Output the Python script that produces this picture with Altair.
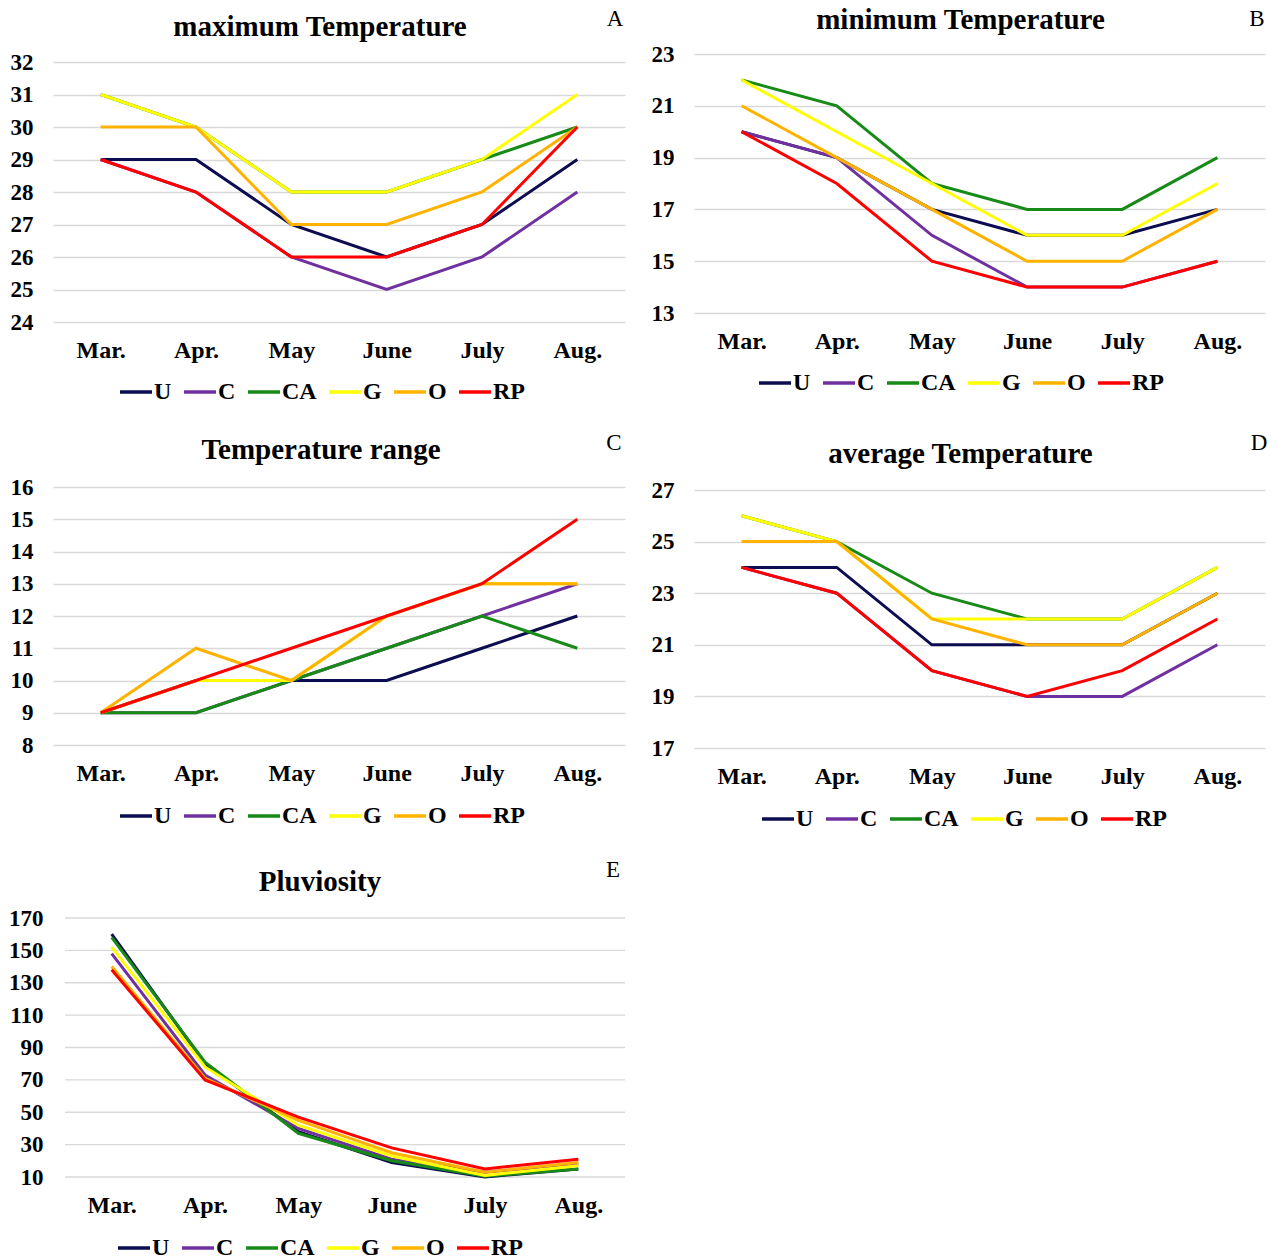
import altair as alt
import pandas as pd

FONT = "Liberation Serif"

MONTHS = ["Mar.", "Apr.", "May", "June", "July", "Aug."]
SITES = ["U", "C", "CA", "G", "O", "RP"]
COLORS = ["#0C0C50", "#7030A0", "#178A17", "#FFFF00", "#FFB300", "#FF0000"]

# A - maximum temperature
TMAX_U = [29, 29, 27, 26, 27, 29]
TMAX_C = [29, 28, 26, 25, 26, 28]
TMAX_CA = [31, 30, 28, 28, 29, 30]
TMAX_G = [31, 30, 28, 28, 29, 31]
TMAX_O = [30, 30, 27, 27, 28, 30]
TMAX_RP = [29, 28, 26, 26, 27, 30]

# B - minimum temperature
TMIN_U = [20, 19, 17, 16, 16, 17]
TMIN_C = [20, 19, 16, 14, 14, 15]
TMIN_CA = [22, 21, 18, 17, 17, 19]
TMIN_G = [22, 20, 18, 16, 16, 18]
TMIN_O = [21, 19, 17, 15, 15, 17]
TMIN_RP = [20, 18, 15, 14, 14, 15]

# C - temperature range
TRNG_U = [9, 10, 10, 10, 11, 12]
TRNG_C = [9, 9, 10, 11, 12, 13]
TRNG_CA = [9, 9, 10, 11, 12, 11]
TRNG_G = [9, 10, 10, 12, 13, 13]
TRNG_O = [9, 11, 10, 12, 13, 13]
TRNG_RP = [9, 10, 11, 12, 13, 15]

# D - average temperature
TAVG_U = [24, 24, 21, 21, 21, 23]
TAVG_C = [24, 23, 20, 19, 19, 21]
TAVG_CA = [26, 25, 23, 22, 22, 24]
TAVG_G = [26, 25, 22, 22, 22, 24]
TAVG_O = [25, 25, 22, 21, 21, 23]
TAVG_RP = [24, 23, 20, 19, 20, 22]

# E - pluviosity
PLUV_U = [160, 80, 38, 19, 10, 15]
PLUV_C = [148, 73, 40, 21, 13, 18]
PLUV_CA = [158, 81, 37, 20, 10.5, 15]
PLUV_G = [152, 78, 42, 23, 11, 17]
PLUV_O = [140, 71, 45, 25, 13, 19]
PLUV_RP = [138, 70, 47, 28, 15, 21]


def make_df(series):
    rows = []
    for k, (s, vals) in enumerate(zip(SITES, series)):
        for m, v in zip(MONTHS, vals):
            rows.append({"month": m, "site": s, "value": v, "k": k})
    return pd.DataFrame(rows)


def panel(series, title, letter, domain, ticks, width, h, top, title_dx,
          title_off, legend_x, legend_y, letter_x, letter_y, x0=0,
          label_pad=20):
    df = make_df(series)
    height = h + top
    yscale = alt.Scale(domain=domain, nice=False, zero=False, range=[height, top])
    xscale = alt.Scale(type="point", padding=0.5, range=[x0, width])
    own_grid = x0 > 0
    yaxis = alt.Axis(title=None, values=ticks, ticks=False, domain=False,
                     grid=not own_grid, gridColor="#d9d9d9", gridWidth=1.3,
                     labelPadding=label_pad, labelFont=FONT,
                     labelFontSize=23, labelFontWeight="bold",
                     labelColor="black")
    lines = alt.Chart(df).mark_line(strokeWidth=3).encode(
        x=alt.X("month:N", sort=MONTHS, scale=xscale,
                axis=alt.Axis(title=None, labelAngle=0, ticks=False, domain=False,
                              grid=False, labelPadding=16, labelFont=FONT,
                              labelFontSize=24, labelFontWeight="bold",
                              labelColor="black")),
        y=alt.Y("value:Q", scale=yscale, axis=yaxis),
        color=alt.Color("site:N", sort=SITES,
                        scale=alt.Scale(domain=SITES, range=COLORS),
                        legend=alt.Legend(title=None, orient="none",
                                          legendX=legend_x, legendY=legend_y,
                                          direction="horizontal",
                                          symbolType="stroke", symbolSize=1024,
                                          symbolStrokeWidth=3.5,
                                          labelFont=FONT, labelFontSize=24,
                                          labelFontWeight="bold",
                                          labelColor="black", labelOffset=0,
                                          columnPadding=5)),
        order=alt.Order("k:Q"),
    )
    layers = []
    if own_grid:
        grid = alt.Chart(pd.DataFrame({"v": ticks})).mark_rule(
            color="#d9d9d9", strokeWidth=1.3
        ).encode(y=alt.Y("v:Q", scale=yscale, axis=yaxis),
                 x=alt.value(x0), x2=alt.value(width))
        layers.append(grid)
    layers.append(lines)
    lab = alt.Chart(pd.DataFrame({"t": [letter]})).mark_text(
        font=FONT, fontSize=23, align="center", baseline="middle", color="black"
    ).encode(text="t:N", x=alt.value(letter_x), y=alt.value(letter_y))
    layers.append(lab)
    return alt.layer(*layers).properties(
        width=width, height=height,
        title=alt.TitleParams(title, font=FONT, fontSize=29, fontWeight="bold",
                              color="black", anchor="middle", dx=title_dx,
                              offset=title_off),
    )


pA = panel([TMAX_U, TMAX_C, TMAX_CA, TMAX_G, TMAX_O, TMAX_RP],
           "maximum Temperature", "A", [24, 32], list(range(24, 33)),
           572, 260, 8, -19, -34, 65, 320, 562, -35)
pB = panel([TMIN_U, TMIN_C, TMIN_CA, TMIN_G, TMIN_O, TMIN_RP],
           "minimum Temperature", "B", [13, 23], list(range(13, 24, 2)),
           571, 259, 0, -19, -27, 63, 311, 563, -35)
pC = panel([TRNG_U, TRNG_C, TRNG_CA, TRNG_G, TRNG_O, TRNG_RP],
           "Temperature range", "C", [8, 16], list(range(8, 17)),
           572, 258, 0, -18, -33, 65, 311, 561, -44)
pD = panel([TAVG_U, TAVG_C, TAVG_CA, TAVG_G, TAVG_O, TAVG_RP],
           "average Temperature", "D", [17, 27], list(range(17, 28, 2)),
           571, 258, 3, -19, -37, 66, 314, 565, -44)
pE = panel([PLUV_U, PLUV_C, PLUV_CA, PLUV_G, PLUV_O, PLUV_RP],
           "Pluviosity", "E", [10, 170], list(range(10, 171, 20)),
           572, 259, 0, -19, -38, 63, 312, 560, -48, x0=12, label_pad=10)

row1 = alt.hconcat(pA, pB, spacing=26).resolve_scale(
    color="independent", y="independent", x="independent").resolve_legend(color="independent")
row2 = alt.hconcat(pC, pD, spacing=26).resolve_scale(
    color="independent", y="independent", x="independent").resolve_legend(color="independent")

chart = alt.vconcat(row1, row2, pE, spacing=28).resolve_scale(
    color="independent", y="independent", x="independent").resolve_legend(
    color="independent").properties(
    padding={"top": -2, "left": 0, "right": 0, "bottom": 0}).configure(
    background="white", view=alt.ViewConfig(strokeWidth=0))

chart.save("out.html", embed_options={"renderer": "svg", "actions": False})
